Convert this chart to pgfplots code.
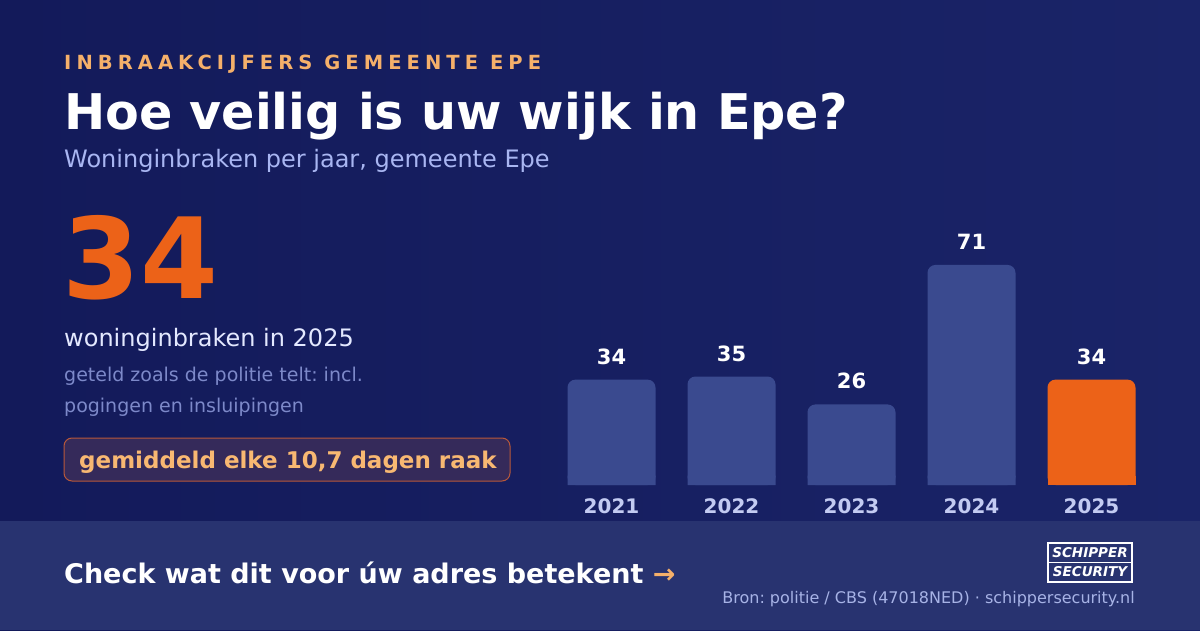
\documentclass[border=0pt]{standalone}
\usepackage{fontspec}
\setmainfont{DejaVu Sans}
\usepackage{pgfplots}
\pgfplotsset{compat=1.18}

\definecolor{bgleft}{HTML}{131A5A}
\definecolor{bgright}{HTML}{1A2468}
\definecolor{band}{HTML}{283370}
\definecolor{kicker}{HTML}{F5B06A}
\definecolor{subt}{HTML}{A9B6F2}
\definecolor{hot}{HTML}{EC6218}
\definecolor{lead}{HTML}{E4E9FF}
\definecolor{muted}{HTML}{7D89C9}
\definecolor{boxfill}{HTML}{352A5A}
\definecolor{boxline}{HTML}{B8583A}
\definecolor{boxtext}{HTML}{F8B872}
\definecolor{barblue}{HTML}{3A4A8F}
\definecolor{yearcol}{HTML}{C3CBF2}
\definecolor{foot}{HTML}{A7B3E6}

\newcommand\fs[1]{\fontsize{#1}{#1}\selectfont}
\frenchspacing

\begin{document}
\begin{tikzpicture}[x=1pt,y=1pt]
% background and bottom band
\shade[left color=bgleft, right color=bgright] (0,0) rectangle (1200,630);
\fill[band] (0,0) rectangle (1200,109);

% headings
\node[anchor=base west, inner sep=0, text=kicker] at (64,560.5)
  {\fs{19.5}\bfseries\addfontfeatures{LetterSpace=26}INBRAAKCIJFERS GEMEENTE EPE};
\node[anchor=base west, inner sep=0, text=white] at (64,500)
  {\fs{49.2}\bfseries Hoe veilig is uw wijk in Epe?};
\node[anchor=base west, inner sep=0, text=subt] at (64,462.3)
  {\fs{24}Woninginbraken per jaar, gemeente Epe};

% key figure
\node[anchor=base west, inner sep=0, text=hot] at (62,331)
  {\fs{112}\bfseries 34};
\node[anchor=base west, inner sep=0, text=lead] at (64,283.3)
  {\fs{24}woninginbraken in 2025};
\node[anchor=base west, inner sep=0, text=muted] at (64,248.3)
  {\fs{19}geteld zoals de politie telt: incl.};
\node[anchor=base west, inner sep=0, text=muted] at (64,217)
  {\fs{19}pogingen en insluipingen};
\draw[rounded corners=8pt, fill=boxfill, draw=boxline, line width=1pt]
  (64,149) rectangle (510,192);
\node[anchor=base west, inner sep=0, text=boxtext] at (79,161.7)
  {\fs{23}\bfseries gemiddeld elke 10,7 dagen raak};

% footer
\node[anchor=base west, inner sep=0, text=white] at (64,47)
  {\fs{27}\bfseries Check wat dit voor úw adres betekent \textcolor{kicker}{→}};
\node[anchor=base east, inner sep=0, text=foot] at (1135,27)
  {\fs{16}Bron: politie / CBS (47018NED) · schippersecurity.nl};
\draw[white, line width=1.5pt] (1048,48) rectangle (1132,87);
\draw[white, line width=1.5pt] (1048,67.5) -- (1132,67.5);
\node[text=white, inner sep=0] at (1090,77.5) {\fs{13.5}\bfseries\itshape SCHIPPER};
\node[text=white, inner sep=0] at (1090,58) {\fs{13.5}\bfseries\itshape SECURITY};

% bars
\begin{axis}[
  at={(551.5pt,145pt)}, anchor=south west,
  scale only axis, width=600pt, height=248pt,
  xmin=-0.5, xmax=4.5, ymin=0, ymax=80,
  clip=false,
  axis line style={draw=none},
  ytick=\empty,
  xtick={0,1,2,3,4},
  xticklabels={2021,2022,2023,2024,2025},
  major tick length=0pt,
  xticklabel style={font=\fs{20}\bfseries, text=yearcol, anchor=center, yshift=-21pt},
  /pgf/number format/assume math mode=true,
  bar width=88pt,
]
% square bottoms under the rounded bars
\addplot[ybar, bar shift=0pt, fill=barblue, draw=none]
  coordinates {(0,3) (1,3) (2,3) (3,3)};
\addplot[ybar, bar shift=0pt, fill=hot, draw=none]
  coordinates {(4,3)};
\addplot[ybar, bar shift=0pt, fill=barblue, draw=none, rounded corners=8pt,
  nodes near coords,
  every node near coord/.append style={font=\fs{21}\bfseries, text=white, anchor=base, yshift=15.5pt}]
  coordinates {(0,34) (1,35) (2,26) (3,71)};
\addplot[ybar, bar shift=0pt, fill=hot, draw=none, rounded corners=8pt,
  nodes near coords,
  every node near coord/.append style={font=\fs{21}\bfseries, text=white, anchor=base, yshift=15.5pt}]
  coordinates {(4,34)};
\end{axis}
\end{tikzpicture}
\end{document}
